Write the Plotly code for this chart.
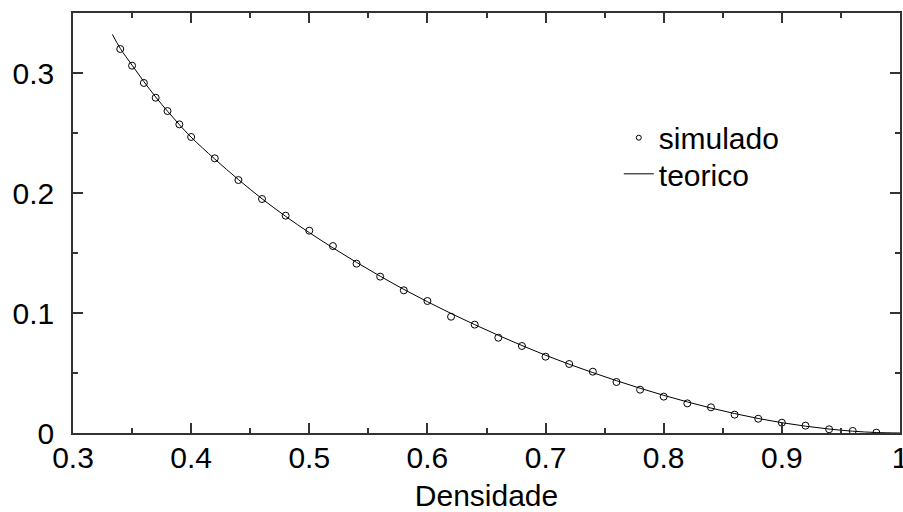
import plotly.graph_objects as go

# simulated data (points)
sim_x = [0.34, 0.35, 0.36, 0.37, 0.38, 0.39, 0.40, 0.42, 0.44, 0.46, 0.48, 0.50,
         0.52, 0.54, 0.56, 0.58, 0.60, 0.62, 0.64, 0.66, 0.68, 0.70, 0.72, 0.74,
         0.76, 0.78, 0.80, 0.82, 0.84, 0.86, 0.88, 0.90, 0.92, 0.94, 0.96, 0.98]
sim_y = [0.3200, 0.3061, 0.2917, 0.2794, 0.2683, 0.2572, 0.2467, 0.2289, 0.2108,
         0.1950, 0.1811, 0.1686, 0.1558, 0.1411, 0.1303, 0.1189, 0.1100, 0.0969,
         0.0903, 0.0794, 0.0725, 0.0636, 0.0575, 0.0511, 0.0425, 0.0361, 0.0303,
         0.0247, 0.0214, 0.0153, 0.0119, 0.0086, 0.0061, 0.0031, 0.0017, 0.0003]

# theoretical curve
teo_x = [0.3333, 0.34, 0.35, 0.36, 0.37, 0.38, 0.39, 0.40, 0.42, 0.44, 0.46, 0.48,
         0.50, 0.52, 0.54, 0.56, 0.58, 0.60, 0.62, 0.64, 0.66, 0.68, 0.70, 0.72,
         0.74, 0.76, 0.78, 0.80, 0.82, 0.84, 0.86, 0.88, 0.90, 0.92, 0.94, 0.96,
         0.98, 1.00]
teo_y = [0.3322, 0.3205, 0.3065, 0.2928, 0.2800, 0.2682, 0.2570, 0.2465, 0.2283,
         0.2112, 0.1952, 0.1805, 0.1670, 0.1543, 0.1422, 0.1307, 0.1197, 0.1094,
         0.0996, 0.0903, 0.0814, 0.0729, 0.0648, 0.0573, 0.0503, 0.0436, 0.0373,
         0.0314, 0.0259, 0.0208, 0.0162, 0.0121, 0.0086, 0.0057, 0.0033, 0.0015,
         0.0004, 0.0000]

x_tickvals = [0.3, 0.4, 0.5, 0.6, 0.7, 0.8, 0.9, 1.0]
x_ticktext = ["0.3", "0.4", "0.5", "0.6", "0.7", "0.8", "0.9", "1"]
y_tickvals = [0.0, 0.1, 0.2, 0.3]
y_ticktext = ["0", "0.1", "0.2", "0.3"]

x_label = "Densidade"
FONT = "Liberation Sans, Arial, sans-serif"
FS = 30
AX = "#333333"

fig = go.Figure()
fig.add_trace(go.Scatter(x=teo_x, y=teo_y, mode="lines", name="teorico",
                         line=dict(color="black", width=1, shape="spline"),
                         showlegend=False))
fig.add_trace(go.Scatter(x=sim_x, y=sim_y, mode="markers", name="simulado",
                         marker=dict(symbol="circle-open", size=7, color="black",
                                     line=dict(width=1, color="black")),
                         showlegend=False))
# legend entries
fig.add_trace(go.Scatter(x=[None], y=[None], mode="markers", name="simulado",
                         legend="legend",
                         marker=dict(symbol="circle-open", size=5, color="black",
                                     line=dict(width=1, color="black"))))
fig.add_trace(go.Scatter(x=[None], y=[None], mode="lines", name="teorico",
                         legend="legend2",
                         line=dict(color="black", width=1)))

axis_common = dict(
    showgrid=False, zeroline=False, showline=True, linecolor=AX, linewidth=1.5,
    mirror="ticks", ticks="inside", ticklen=10, tickwidth=1.5, tickcolor=AX,
    tickfont=dict(family=FONT, size=FS, color="black"), tickmode="array",
    ticklabeloverflow="allow",
)

fig.update_xaxes(range=[0.3, 1.0], tickvals=x_tickvals, ticktext=x_ticktext,
                 minor=dict(tickmode="linear", tick0=0.3, dtick=0.05, ticks="inside",
                            ticklen=5, tickwidth=1.5, tickcolor=AX),
                 ticklabelstandoff=-3,
                 title=dict(text=x_label, font=dict(family=FONT, size=FS, color="black"), standoff=23),
                 **axis_common)
fig.update_yaxes(range=[0, 0.35], tickvals=y_tickvals, ticktext=y_ticktext,
                 minor=dict(tickmode="linear", tick0=0, dtick=0.05, ticks="inside",
                            ticklen=5, tickwidth=1.5, tickcolor=AX),
                 ticklabelstandoff=11,
                 **axis_common)

leg_common = dict(xanchor="left", yanchor="top", bgcolor="rgba(0,0,0,0)",
                  font=dict(family=FONT, size=FS))
fig.update_layout(
    width=903, height=512,
    margin=dict(l=73, r=3, t=13, b=79, autoexpand=False),
    plot_bgcolor="white", paper_bgcolor="white",
    font=dict(family=FONT, size=FS, color="black"),
    legend=dict(x=0.66, y=0.765, **leg_common),
    legend2=dict(x=0.66, y=0.679, **leg_common),
)

fig.write_html("out.html")
